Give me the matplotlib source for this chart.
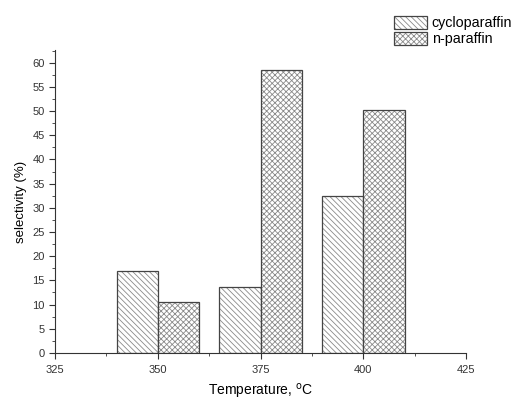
import matplotlib
matplotlib.use("Agg")
import matplotlib.pyplot as plt
from matplotlib.ticker import MultipleLocator
from matplotlib.patches import Patch

plt.rcParams['font.family'] = ['Liberation Sans', 'DejaVu Sans']
plt.rcParams['hatch.linewidth'] = 0.6

temperatures = [350, 375, 400]
cycloparaffin = [17.0, 13.6, 32.5]
n_paraffin = [10.5, 58.4, 50.2]
series_labels = ['cycloparaffin', 'n-paraffin']

fig = plt.figure(figsize=(5.14, 4.01), dpi=100)
ax = fig.add_axes([0.107, 0.12, 0.80, 0.755])

w = 10
hatch_col = '#8a8a8a'
edge = '#444444'
h1 = '\\\\\\\\\\\\'
h2 = 'xxxxxx'
ax.bar(temperatures, cycloparaffin, width=-w, align='edge', color='white',
       edgecolor=hatch_col, hatch=h1, linewidth=0)
ax.bar(temperatures, cycloparaffin, width=-w, align='edge', fill=False,
       edgecolor=edge, linewidth=0.9)
ax.bar(temperatures, n_paraffin, width=w, align='edge', color='white',
       edgecolor=hatch_col, hatch=h2, linewidth=0)
ax.bar(temperatures, n_paraffin, width=w, align='edge', fill=False,
       edgecolor=edge, linewidth=0.9)

ax.set_xlim(325, 425)
ax.set_ylim(0, 62.6)
ax.xaxis.set_major_locator(MultipleLocator(25))
ax.xaxis.set_minor_locator(MultipleLocator(12.5))
ax.yaxis.set_major_locator(MultipleLocator(5))
ax.yaxis.set_minor_locator(MultipleLocator(2.5))
for s in ['top', 'right']:
    ax.spines[s].set_visible(False)
for s in ['left', 'bottom']:
    ax.spines[s].set_color('#333333')
ax.tick_params(which='major', length=4, direction='out', labelsize=8, colors='#333333')
ax.tick_params(which='minor', length=2.5, direction='out', colors='#333333')
ax.tick_params(axis='x', pad=5)

ax.set_xlabel('Temperature, $^{\\mathrm{o}}$C', fontsize=10, labelpad=5)
ax.set_ylabel('selectivity (%)', fontsize=9.5, labelpad=4)

handles = [(Patch(facecolor='white', edgecolor=hatch_col, hatch=h1, linewidth=0),
            Patch(fill=False, edgecolor=edge, linewidth=0.9)),
           (Patch(facecolor='white', edgecolor=hatch_col, hatch=h2, linewidth=0),
            Patch(fill=False, edgecolor=edge, linewidth=0.9))]
fig.legend(handles, series_labels, loc='upper left', bbox_to_anchor=(0.748, 0.985),
           frameon=False, fontsize=10.3, handlelength=2.3, handleheight=1.0,
           handletextpad=0.3, labelspacing=0.1, borderpad=0.2)

fig.savefig('out.png', dpi=100)
